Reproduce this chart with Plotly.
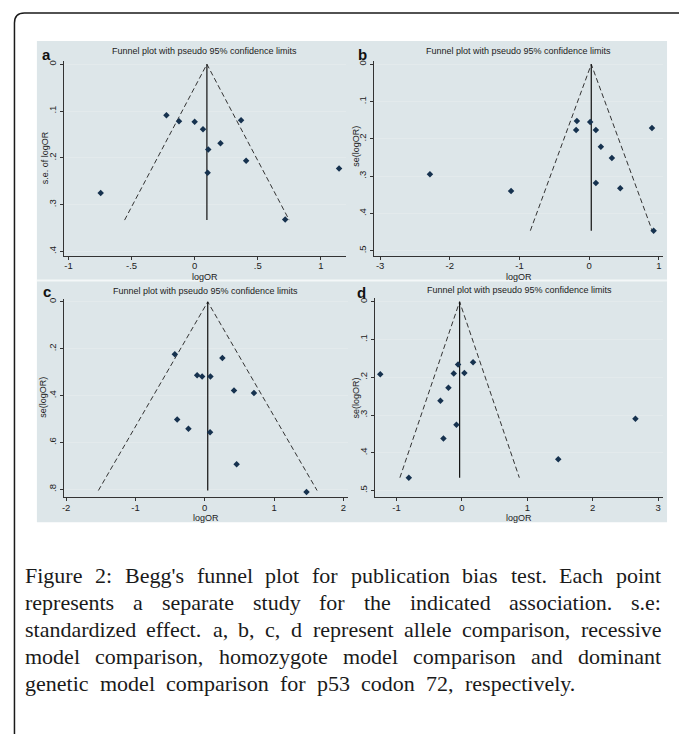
import plotly.graph_objects as go

W, H = 679, 734

# ---------------- data ----------------
a_logor = [-0.224, -0.124, 0.0, 0.066, 0.368, 0.205, 0.108, 0.408, 0.103, 1.145, -0.745, 0.718]
a_se = [0.109, 0.122, 0.123, 0.139, 0.120, 0.169, 0.182, 0.206, 0.232, 0.223, 0.275, 0.332]
a_mean, a_maxse = 0.097, 0.333

b_logor = [-2.285, -1.121, -0.177, -0.187, 0.014, 0.096, 0.168, 0.326, 0.096, 0.446, 0.901, 0.925]
b_se = [0.295, 0.340, 0.152, 0.176, 0.155, 0.176, 0.221, 0.251, 0.318, 0.332, 0.171, 0.446]
b_mean, b_maxse = 0.03, 0.446

c_logor = [-0.432, 0.254, -0.110, -0.038, 0.082, 0.422, 0.710, -0.398, -0.235, 0.077, 0.460, 1.468]
c_se = [0.223, 0.239, 0.313, 0.318, 0.318, 0.378, 0.389, 0.502, 0.541, 0.556, 0.693, 0.811]
c_mean, c_maxse = 0.043, 0.805

d_logor = [-1.249, -0.812, -0.059, 0.171, -0.125, 0.038, -0.206, -0.328, -0.084, -0.282, 1.473, 2.654]
d_se = [0.192, 0.466, 0.166, 0.160, 0.190, 0.189, 0.228, 0.262, 0.326, 0.362, 0.417, 0.310]
d_mean, d_maxse = -0.035, 0.466

a_xticks = [-1, -0.5, 0, 0.5, 1]
a_xlabels = ["-1", "-.5", "0", ".5", "1"]
a_yticks = [0, 0.1, 0.2, 0.3, 0.4]
a_ylabels = ["0", ".1", ".2", ".3", ".4"]

b_xticks = [-3, -2, -1, 0, 1]
b_xlabels = ["-3", "-2", "-1", "0", "1"]
b_yticks = [0, 0.1, 0.2, 0.3, 0.4, 0.5]
b_ylabels = ["0", ".1", ".2", ".3", ".4", ".5"]

c_xticks = [-2, -1, 0, 1, 2]
c_xlabels = ["-2", "-1", "0", "1", "2"]
c_yticks = [0, 0.2, 0.4, 0.6, 0.8]
c_ylabels = ["0", ".2", ".4", ".6", ".8"]

d_xticks = [-1, 0, 1, 2, 3]
d_xlabels = ["-1", "0", "1", "2", "3"]
d_yticks = [0, 0.1, 0.2, 0.3, 0.4, 0.5]
d_ylabels = ["0", ".1", ".2", ".3", ".4", ".5"]

panel_title = "Funnel plot with pseudo 95% confidence limits"
ytitles = ["s.e. of logOR", "se(logOR)", "se(logOR)", "se(logOR)"]
letters = ["a", "b", "c", "d"]

caption_lines = [
    "Figure 2: Begg's funnel plot for publication bias test. Each point",
    "represents a separate study for the indicated association. s.e:",
    "standardized effect. a, b, c, d represent allele comparison, recessive",
    "model comparison, homozygote model comparison and dominant",
    "genetic model comparison for p53 codon 72, respectively.",
]

# ---------------- layout helpers ----------------
def px(x):
    return x / W

def py(y):
    return 1 - y / H

SANS = "Liberation Sans, Arial, sans-serif"
DARK = "#222222"
BG = "#dde6e9"
GRID = "#e3eaec"

panels = [
    dict(x=a_logor, y=a_se, mean=a_mean, maxse=a_maxse, box=(61.7, 345, 60, 255),
         xr=[-1.04, 1.2], yr=[0.409, -0.007], xt=a_xticks, xl=a_xlabels, yt=a_yticks, yl=a_ylabels,
         ytpos=(42.5, 157), lpos=(45, 54), tpos=50, xtitle=276),
    dict(x=b_logor, y=b_se, mean=b_mean, maxse=b_maxse, box=(373.3, 663, 60, 255),
         xr=[-3.085, 1.06], yr=[0.513, -0.009], xt=b_xticks, xl=b_xlabels, yt=b_yticks, yl=b_ylabels,
         ytpos=(355, 145), lpos=(362, 54), tpos=50, xtitle=276),
    dict(x=c_logor, y=c_se, mean=c_mean, maxse=c_maxse, box=(62.3, 346.7, 298, 497),
         xr=[-2.029, 2.062], yr=[0.834, -0.014], xt=c_xticks, xl=c_xlabels, yt=c_yticks, yl=c_ylabels,
         ytpos=(41.5, 397), lpos=(45, 291), tpos=290, xtitle=517.5),
    dict(x=d_logor, y=d_se, mean=d_mean, maxse=d_maxse, box=(374.3, 663, 297, 497),
         xr=[-1.326, 3.076], yr=[0.518, -0.011], xt=d_xticks, xl=d_xlabels, yt=d_yticks, yl=d_ylabels,
         ytpos=(356, 397), lpos=(361, 292), tpos=289, xtitle=517.5),
]

fig = go.Figure()
annotations = []
shapes = []

# figure region background, row separator, rounded border
shapes.append(dict(type="rect", xref="paper", yref="paper", x0=px(35), x1=px(667), y0=py(522), y1=py(40),
                   fillcolor=BG, line=dict(width=0), layer="below"))
shapes.append(dict(type="line", xref="paper", yref="paper", x0=px(35), x1=px(667), y0=py(280), y1=py(280),
                   line=dict(color="#f4f7f8", width=2), layer="below"))
path = "M {},{} L {},{} Q {},{} {},{} L {},{}".format(
    px(12.5), py(740), px(12.5), py(22), px(12.5), py(12), px(22.5), py(12), px(690), py(12))
shapes.append(dict(type="path", xref="paper", yref="paper", path=path,
                   line=dict(color="#1a1a1a", width=1.5)))

for i, p in enumerate(panels):
    n = "" if i == 0 else str(i + 1)
    xa, ya = "x" + n, "y" + n
    L, R, T, B = p["box"]
    lo = p["mean"] - 1.96 * p["maxse"]
    hi = p["mean"] + 1.96 * p["maxse"]
    # pseudo 95% confidence limits
    fig.add_trace(go.Scatter(x=[lo, p["mean"], hi], y=[p["maxse"], 0, p["maxse"]], mode="lines",
                             line=dict(color="#333333", width=1, dash="5px,3px"),
                             xaxis=xa, yaxis=ya, showlegend=False, hoverinfo="skip"))
    fig.add_trace(go.Scatter(x=[p["mean"], p["mean"]], y=[0, p["maxse"]], mode="lines",
                             line=dict(color="#111111", width=1.2),
                             xaxis=xa, yaxis=ya, showlegend=False, hoverinfo="skip"))
    fig.add_trace(go.Scatter(x=p["x"], y=p["y"], mode="markers",
                             marker=dict(symbol="diamond", size=5, color="#16324f"),
                             xaxis=xa, yaxis=ya, showlegend=False))
    fig.update_layout(**{
        "xaxis" + n: dict(domain=[px(L), px(R)], range=p["xr"], anchor=ya, tickmode="array",
                          tickvals=p["xt"], ticktext=p["xl"], showgrid=False, zeroline=False,
                          showline=True, linecolor="#333333", linewidth=1, ticks="outside",
                          ticklen=3, tickcolor="#333333", tickwidth=1, ticklabelstandoff=-2,
                          tickfont=dict(family=SANS, size=9.5, color=DARK)),
        "yaxis" + n: dict(domain=[py(B), py(T)], range=p["yr"], anchor=xa, tickmode="array",
                          tickvals=p["yt"], ticktext=p["yl"], showgrid=True, gridcolor=GRID,
                          gridwidth=1, zeroline=False, showline=True, linecolor="#333333",
                          linewidth=1, ticks="outside", ticklen=3, tickcolor="#333333",
                          tickwidth=1, tickangle=-90,
                          tickfont=dict(family=SANS, size=9.5, color=DARK)),
    })
    cx = (L + R) / 2
    annotations.append(dict(text=panel_title, x=px(cx), y=py(p["tpos"]), xref="paper", yref="paper",
                            showarrow=False, xanchor="center", yanchor="middle",
                            font=dict(family=SANS, size=9, color=DARK)))
    annotations.append(dict(text="logOR", x=px(cx), y=py(p["xtitle"]), xref="paper", yref="paper",
                            showarrow=False, xanchor="center", yanchor="middle",
                            font=dict(family=SANS, size=9, color=DARK)))
    annotations.append(dict(text=ytitles[i], x=px(p["ytpos"][0]), y=py(p["ytpos"][1]), xref="paper",
                            yref="paper", showarrow=False, textangle=-90, xanchor="center",
                            yanchor="middle", font=dict(family=SANS, size=9, color=DARK)))
    annotations.append(dict(text="<b>" + letters[i] + "</b>", x=px(p["lpos"][0]), y=py(p["lpos"][1]),
                            xref="paper", yref="paper", showarrow=False, xanchor="center",
                            yanchor="middle", font=dict(family=SANS, size=15, color="#111111")))

# ---------------- caption, justified word by word ----------------
TIMES_W = {" ": 250, "'": 180, ",": 250, ".": 250, ":": 278, "0": 500, "1": 500, "2": 500, "3": 500,
           "4": 500, "5": 500, "6": 500, "7": 500, "8": 500, "9": 500, "B": 667, "E": 611, "F": 556,
           "a": 444, "b": 500, "c": 444, "d": 500, "e": 444, "f": 333, "g": 500, "h": 500, "i": 278,
           "j": 278, "k": 500, "l": 278, "m": 778, "n": 500, "o": 500, "p": 500, "q": 500, "r": 333,
           "s": 389, "t": 278, "u": 500, "v": 500, "w": 722, "x": 500, "y": 500, "z": 444}
CAP_SIZE = 22
CAP_FONT = "Liberation Serif, Times New Roman, serif"

def word_w(w):
    return sum(TIMES_W.get(ch, 500) for ch in w) / 1000 * CAP_SIZE

cap_left = 21
cap_rights = [659, 659, 659, 659, 574]
cap_centers = [575, 602, 629, 656, 683]
for line, right, yc in zip(caption_lines, cap_rights, cap_centers):
    words = line.split(" ")
    widths = [word_w(w) for w in words]
    gap = (right - cap_left - sum(widths)) / (len(words) - 1)
    x = cap_left
    for w, ww in zip(words, widths):
        annotations.append(dict(text=w, x=px(x), y=py(yc), xref="paper", yref="paper",
                                showarrow=False, xanchor="left", yanchor="middle",
                                font=dict(family=CAP_FONT, size=CAP_SIZE, color="#1a1a1a")))
        x += ww + gap

fig.update_layout(width=W, height=H, margin=dict(l=0, r=0, t=0, b=0),
                  paper_bgcolor="white", plot_bgcolor="white",
                  annotations=annotations, shapes=shapes, showlegend=False)

fig.write_html("out.html", config={"displayModeBar": False},
               post_script="document.body.style.margin='0';document.body.style.overflow='hidden';")
